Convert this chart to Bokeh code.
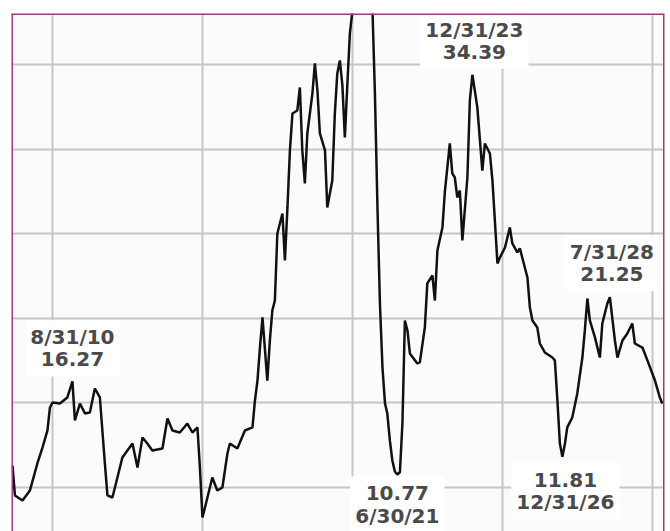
import pandas as pd
from bokeh.plotting import figure
from bokeh.models import Range1d, FixedTicker, Span, Label
from bokeh.embed import file_html
from bokeh.resources import INLINE

# ---- data (month-end readings) ----
months = [
    "2008-08", "2008-09", "2008-12", "2009-03", "2009-06", "2009-08", "2009-10", "2009-11", "2009-12",
    "2010-03", "2010-06", "2010-08", "2010-09", "2010-11", "2011-01", "2011-03", "2011-05", "2011-07",
    "2011-09", "2011-10", "2011-12", "2012-03", "2012-04", "2012-06", "2012-08", "2012-10", "2012-12",
    "2013-02", "2013-04", "2013-08", "2013-10", "2013-12", "2014-03", "2014-06", "2014-08", "2014-10",
    "2014-11", "2014-12", "2015-01", "2015-04", "2015-06", "2015-08", "2015-10", "2015-11", "2016-02",
    "2016-05", "2016-08", "2016-09", "2016-10", "2016-11", "2016-12", "2017-02", "2017-03", "2017-04",
    "2017-05", "2017-06", "2017-08", "2017-09", "2017-10", "2017-11", "2017-12", "2018-02", "2018-03",
    "2018-04", "2018-05", "2018-06", "2018-08", "2018-09", "2018-10", "2018-11", "2019-01", "2019-02",
    "2019-04", "2019-05", "2019-06", "2019-07", "2019-08", "2019-09", "2019-10", "2019-11", "2020-01",
    "2020-03", "2020-05", "2020-07", "2020-08", "2020-09", "2020-10", "2020-11", "2020-12", "2021-01",
    "2021-02", "2021-03", "2021-04", "2021-05", "2021-06", "2021-07", "2021-08", "2021-09", "2021-10",
    "2021-11", "2022-02", "2022-03", "2022-05", "2022-06", "2022-08", "2022-09", "2022-10", "2022-12",
    "2023-01", "2023-03", "2023-04", "2023-05", "2023-06", "2023-07", "2023-08", "2023-10", "2023-11",
    "2023-12", "2024-02", "2024-04", "2024-05", "2024-07", "2024-08", "2024-10", "2024-11", "2025-01",
    "2025-03", "2025-04", "2025-06", "2025-07", "2025-10", "2025-11", "2025-12", "2026-02", "2026-03",
    "2026-05", "2026-08", "2026-09", "2026-10", "2026-11", "2026-12", "2027-01", "2027-02", "2027-04",
    "2027-06", "2027-08", "2027-09", "2027-10", "2027-11", "2028-01", "2028-03", "2028-04", "2028-06",
    "2028-07", "2028-09", "2028-10", "2028-12", "2029-02", "2029-04", "2029-05", "2029-08", "2029-10",
    "2030-01", "2030-03", "2030-04",
]
values = [
    11.30, 9.53, 9.23, 9.82, 11.42, 12.36, 13.37, 14.73, 15.02,
    14.96, 15.32, 16.27, 13.96, 14.96, 14.37, 14.43, 15.85, 15.32,
    11.42, 9.53, 9.41, 11.18, 11.77, 12.19, 12.60, 11.18, 12.96,
    12.60, 12.19, 12.30, 14.08, 13.37, 13.25, 13.78, 13.25, 13.55,
    11.18, 8.23, 8.82, 10.59, 9.82, 10.00, 12.01, 12.60, 12.30,
    13.37, 13.55, 15.14, 16.32, 18.27, 20.05, 16.32, 18.69, 20.46,
    21.05, 25.01, 26.19, 23.42, 26.55, 29.92, 32.10, 32.28, 33.64,
    29.92, 27.97, 30.92, 33.29, 35.06, 33.46, 30.92, 29.92, 26.55,
    28.14, 32.10, 34.47, 35.24, 33.76, 30.69, 33.88, 36.83, 39.50,
    41.50, 42.50, 40.50, 38.30, 33.29, 26.55, 20.87, 17.09, 14.96,
    14.37, 12.78, 11.60, 10.95, 10.77, 10.90, 13.78, 19.87, 19.28,
    17.92, 17.33, 17.39, 19.46, 22.06, 22.53, 21.05, 24.01, 25.37,
    27.55, 30.33, 28.56, 28.32, 27.14, 27.55, 24.60, 28.32, 32.87,
    34.39, 32.46, 28.73, 30.33, 29.74, 28.14, 23.24, 23.59, 24.18,
    25.37, 24.42, 23.89, 24.13, 22.41, 20.64, 19.87, 19.46, 18.51,
    17.98, 17.68, 17.51, 15.14, 12.60, 11.81, 12.60, 13.55, 14.14,
    15.56, 17.68, 19.28, 21.17, 19.87, 18.87, 17.68, 19.69, 20.87,
    21.25, 18.69, 17.68, 18.69, 19.10, 19.69, 18.51, 18.27, 17.51,
    16.32, 15.32, 14.96,
]

label_months = ["2010-08", "2023-12", "2028-07", "2021-06", "2026-12"]
label_values = [16.27, 34.39, 21.25, 10.77, 11.81]
label_texts = ["8/31/10\n16.27", "12/31/23\n34.39", "7/31/28\n21.25",
               "10.77\n6/30/21", "11.81\n12/31/26"]

grid_years = ["2010-01-01", "2015-01-01", "2020-01-01", "2025-01-01", "2030-01-01"]
grid_values = [10, 15, 20, 25, 30, 35]

# ---- layout / style ----
label_offsets = [(0, 33), (2, 34), (2, 34), (0, -30), (3, -34)]
PURPLE = "#a23a88"


def to_ms(ts):
    return pd.Timestamp(ts).timestamp() * 1000.0


dates = pd.to_datetime(months) + pd.offsets.MonthEnd(0)
label_dates = pd.to_datetime(label_months) + pd.offsets.MonthEnd(0)

x_start = to_ms("2008-08-19")
x_end = to_ms("2030-05-27")
y_start, y_end = 7.40, 38.01

p = figure(width=670, height=531, x_axis_type="datetime",
           x_range=Range1d(x_start, x_end), y_range=Range1d(y_start, y_end),
           x_axis_location=None, y_axis_location=None,
           output_backend="svg", toolbar_location=None,
           min_border_left=11, min_border_right=6, min_border_top=13, min_border_bottom=0,
           background_fill_color="#fbfbfb", border_fill_color="white",
           outline_line_color=None)

p.xgrid.ticker = FixedTicker(ticks=[to_ms(g) for g in grid_years])
p.ygrid.ticker = FixedTicker(ticks=grid_values)
for g in (p.xgrid, p.ygrid):
    g.grid_line_color = "#c6c6c6"
    g.grid_line_width = 2

p.line(dates, values, line_color="#111111", line_width=2.5)

for d, v, t, (dx, dy) in zip(label_dates, label_values, label_texts, label_offsets):
    p.add_layout(Label(x=d.timestamp() * 1000.0, y=v, text=t,
                       x_offset=dx, y_offset=dy,
                       text_align="center", text_baseline="middle",
                       text_font="DejaVu Sans", text_font_style="bold",
                       text_font_size="20px", text_color="#4a4a4a",
                       text_line_height=0.92,
                       background_fill_color="white", padding=5))

for loc, dim in ((x_start, "height"), (x_end, "height"), (y_end, "width")):
    p.add_layout(Span(location=loc, dimension=dim, line_color=PURPLE, line_width=3))

open("out.html", "w").write(file_html(p, INLINE))
